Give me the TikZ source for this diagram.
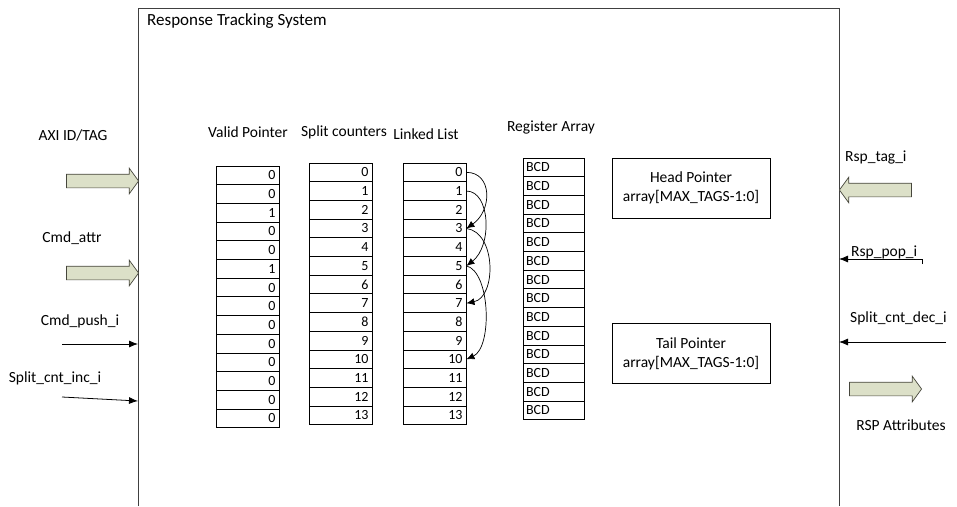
\documentclass[tikz,border=0pt]{standalone}
\usepackage{fontspec}
\setmainfont{Carlito}
\usepackage{tikz}
\usetikzlibrary{positioning, arrows.meta, shapes.arrows}

\definecolor{arrowfill}{RGB}{220,224,200}
\definecolor{arrowline}{RGB}{70,70,60}

\begin{document}
\begin{tikzpicture}[
  x=1pt, y=-1pt,
  font=\fontsize{15.5}{19}\selectfont,
  cell/.style={rectangle, draw, line width=0.9pt, minimum height=18.7pt, inner ysep=0pt, font=\fontsize{14}{15}\selectfont},
  numcell/.style={cell, text width=56pt, align=right, inner xsep=3.5pt},
  bcdcell/.style={cell, text width=55pt, align=left, inner xsep=3pt},
  ptrbox/.style={rectangle, draw, line width=0.8pt, minimum width=158pt, minimum height=60pt, align=center, inner sep=0pt},
  fatarr/.style={single arrow, draw=arrowline, fill=arrowfill, line width=0.7pt, inner sep=6.5pt, minimum height=72pt, single arrow head extend=6pt, single arrow tip angle=108},
  sig/.style={-{Latex[length=9pt,width=7pt]}, line width=0.8pt},
  link/.style={-{Latex[length=8pt,width=7pt]}, line width=0.7pt},
  lbl/.style={inner sep=0pt}
]
\useasboundingbox (0,0) rectangle (957,506);

% outer block
\draw[line width=0.9pt, black!75] (138,506) |- (839,8) -- (839,506);
\node[lbl, anchor=west, font=\fontsize{17}{20}\selectfont] (title) at (147,21) {Response Tracking System};

% column headers
\node[lbl] (vphead) at (248,132) {Valid Pointer};
\node[lbl] (schead) at (344,132) {Split counters};
\node[lbl] (llhead) at (426,134) {Linked List};
\node[lbl] (rahead) at (551,127) {Register Array};

% columns
\foreach \v [count=\i from 0] in {0,0,1,0,0,1,0,0,0,0,0,0,0,0}
  \node[numcell] (vp\i) at (247.5,{166+18.7*(\i+0.5)}) {\v};
\foreach \i in {0,...,13} {
  \node[numcell] (sc\i) at (340.5,{163+18.7*(\i+0.5)}) {\i};
  \node[numcell] (ll\i) at (434.5,{163+18.7*(\i+0.5)}) {\i};
  \node[bcdcell] (ra\i) at (553.5,{158+18.7*(\i+0.5)}) {BCD};
}

% linked list chains
\draw[link] (ll0.east) .. controls +(26,0) and +(26,-18) .. (ll3.east);
\draw[link] (ll1.east) .. controls +(24,0) and +(26,-20) .. (ll5.east);
\draw[link] (ll3.east) .. controls +(30,4) and +(30,-6) .. (ll7.east);
\draw[link] (ll5.east) .. controls +(24,6) and +(26,-12) .. (ll10.east);

% pointer arrays
\node[ptrbox] (head) at (691,188) {Head Pointer\\array[MAX\_TAGS-1:0]};
\node[ptrbox] (tail) at (691,353.5) {Tail Pointer\\array[MAX\_TAGS-1:0]};

% inputs on the left
\node[lbl] (axilbl) at (73,135) {AXI ID/TAG};
\node[fatarr, anchor=tip] (axiarr) at (139,181) {};
\node[lbl] (attrlbl) at (72,238) {Cmd\_attr};
\node[fatarr, anchor=tip] (attrarr) at (139,273) {};
\node[lbl] (pushlbl) at (80,321) {Cmd\_push\_i};
\coordinate (pushsrc) at (62,344);
\coordinate (pushdst) at (138,344);
\draw[sig] (pushsrc) -- (pushdst);
\node[lbl] (inclbl) at (55,378) {Split\_cnt\_inc\_i};
\coordinate (incsrc) at (62,397);
\coordinate (incdst) at (138,401);
\draw[sig] (incsrc) -- (incdst);

% responses on the right
\node[lbl, anchor=west] (taglbl) at (845,157) {Rsp\_tag\_i};
\node[fatarr, anchor=tip, shape border rotate=180] (tagarr) at (839,190) {};
\node[lbl, anchor=west] (poplbl) at (851,252) {Rsp\_pop\_i};
\coordinate (popsrc) at (922,264);
\coordinate (popdst) at (839,259);
\draw[sig] (popsrc) |- (popdst);
\node[lbl, anchor=west] (declbl) at (850,318) {Split\_cnt\_dec\_i};
\coordinate (decsrc) at (946,342);
\coordinate (decdst) at (839,342);
\draw[sig] (decsrc) -- (decdst);
\node[fatarr, anchor=tip] (attrout) at (922,389) {};
\node[lbl] (rsplbl) at (901,425) {RSP Attributes};
\end{tikzpicture}
\end{document}
